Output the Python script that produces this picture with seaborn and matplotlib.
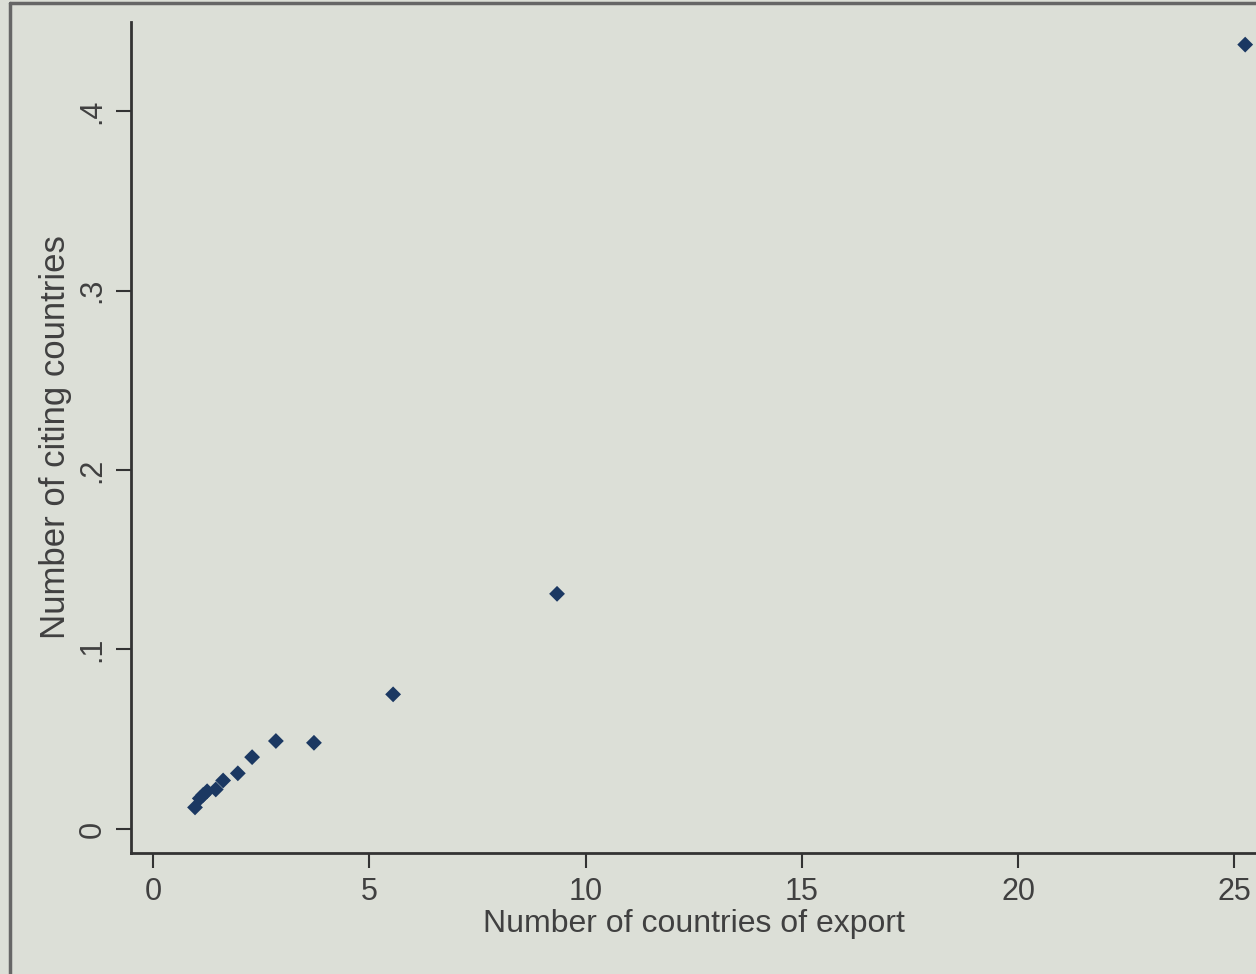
import numpy as np
import pandas as pd
import seaborn as sns
import matplotlib.pyplot as plt
from matplotlib.lines import Line2D

# values
export_countries = [0.97, 1.08, 1.16, 1.25, 1.45, 1.62, 1.96, 2.29, 2.84, 3.72, 5.55, 9.34, 25.25]
citing_countries = [0.012, 0.017, 0.019, 0.021, 0.022, 0.027, 0.031, 0.040, 0.049, 0.048, 0.075, 0.131, 0.437]
x_ticks = [0, 5, 10, 15, 20, 25]
y_ticks = [0, 0.1, 0.2, 0.3, 0.4]
y_tick_labels = ["0", ".1", ".2", ".3", ".4"]

df = pd.DataFrame({"export": export_countries, "citing": citing_countries})

sns.set_style("ticks")
plt.rcParams['font.family'] = ['Liberation Sans', 'DejaVu Sans']

bg = "#dcdfd7"
txt = "#404040"

fig = plt.figure(figsize=(12.56, 9.74), dpi=100, facecolor=bg)
ax = fig.add_axes([131 / 1256, 1 - 853 / 974, 1 - 131 / 1256, (853 - 22) / 974])
ax.set_facecolor(bg)

sns.scatterplot(data=df, x="export", y="citing", marker="D", s=65,
                color="#1b3862", edgecolor="none", ax=ax)

ax.set_xlim(-0.51, 25.5)
ax.set_ylim(-0.0134, 0.4496)
ax.set_xticks(x_ticks)
ax.set_xticklabels([str(t) for t in x_ticks])
ax.set_yticks(y_ticks)
ax.set_yticklabels(y_tick_labels, rotation=90, va="center")

ax.set_xlabel("Number of countries of export", fontsize=23, color=txt, labelpad=2)
ax.set_ylabel("Number of citing countries", fontsize=25, color=txt, labelpad=4)
ax.tick_params(axis="both", labelsize=22, labelcolor=txt, color="#333333",
               length=11, width=1.5, pad=6)

sns.despine(ax=ax)
for side in ["left", "bottom"]:
    ax.spines[side].set_color("#333333")
    ax.spines[side].set_linewidth(2)

# outer frame of the graph window
fig.add_artist(Line2D([10 / 1256, 10 / 1256], [0, 1 - 3 / 974], transform=fig.transFigure,
                      color="#666666", lw=2.5))
fig.add_artist(Line2D([10 / 1256, 1], [1 - 3 / 974, 1 - 3 / 974], transform=fig.transFigure,
                      color="#666666", lw=2.5))

fig.savefig("out.png", dpi=100, facecolor=bg)
